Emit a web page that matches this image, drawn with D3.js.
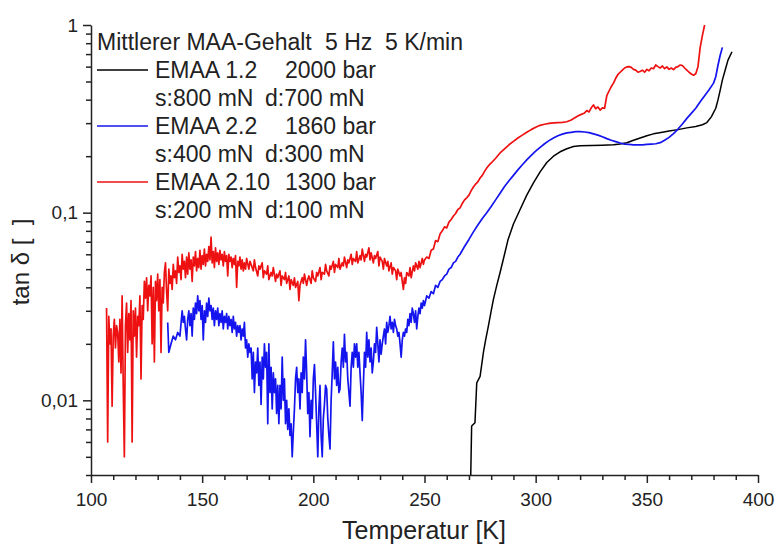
<!DOCTYPE html>
<html>
<head>
<meta charset="utf-8">
<script src="https://cdn.jsdelivr.net/npm/d3@7"></script>
<style>
  body { margin: 0; background: #fff; }
  svg { font-family: "Liberation Sans", Arial, sans-serif; }
</style>
</head>
<body>
<svg id="chart" width="780" height="547"></svg>
<script>
// temperature [K], tan delta
var blackData = [[270.8,0.0040],[271.2,0.0073],[272.7,0.0076],[273.5,0.0124],[275,0.0134],[276.5,0.018],[277.5,0.021],
  [278.7,0.0248],[280,0.030],[281,0.0345],[282.5,0.041],[284,0.048],[286,0.060],[287.6,0.072],[290,0.087],[293,0.104],
  [296,0.124],[299,0.144],[302,0.165],[305,0.185],[308,0.200],[311,0.211],[314,0.219],[317,0.225],[320,0.227],[325,0.228],
  [330,0.229],[335,0.230],[338,0.232],[341,0.236],[344,0.243],[347,0.250],[350,0.257],[353,0.263],[357,0.268],[360,0.272],
  [364,0.277],[368,0.283],[372,0.288],[375,0.294],[377,0.302],[379,0.324],[381,0.360],[382,0.399],[383,0.450],[384,0.510],
  [385.5,0.590],[386.5,0.650],[388.3,0.720]];

var blueData = [[134.5,0.026],[135,0.018],[135.5,0.019],[136,0.020],[137,0.022],[138,0.021],[139,0.023],[140,0.022],
  [141,0.030],[141.5,0.026],[142,0.028],[142.5,0.024],[143,0.021],[143.5,0.027],[144,0.030],[144.5,0.025],[145,0.029],
  [145.5,0.022],[146,0.031],[146.5,0.027],[147,0.033],[147.5,0.029],[148,0.036],[148.5,0.030],[149,0.034],[149.5,0.027],
  [150,0.032],[150.5,0.021],[151,0.030],[151.5,0.026],[152,0.033],[152.5,0.028],[153,0.035],[153.5,0.030],[154,0.032],
  [154.5,0.027],[155,0.031],[155.5,0.025],[156,0.030],[156.5,0.027],[157,0.031],[157.5,0.025],[158,0.029],[158.5,0.026],
  [159,0.030],[159.5,0.024],[160,0.028],[160.5,0.026],[161,0.029],[161.5,0.024],[162,0.028],[162.5,0.025],[163,0.027],
  [163.5,0.023],[164,0.028],[164.5,0.024],[165,0.026],[165.5,0.022],[166,0.025],[166.5,0.023],[167,0.025],[167.5,0.021],
  [168,0.024],[168.5,0.022],[169,0.026],[169.5,0.019],[170,0.021],[170.5,0.017],[171,0.020],[171.5,0.018],[172,0.019],
  [172.5,0.013],[173,0.018],[173.5,0.011],[174,0.016],[174.5,0.014],[175,0.019],[175.5,0.012],[176,0.016],[176.5,0.0095],
  [177,0.017],[177.5,0.013],[178,0.020],[178.5,0.015],[179,0.018],[179.5,0.0075],[180,0.020],[180.5,0.011],[181,0.015],
  [181.5,0.009],[182,0.014],[182.5,0.011],[183,0.013],[183.5,0.0085],[184,0.012],[184.5,0.0075],[185,0.012],[185.5,0.009],
  [186,0.017],[186.5,0.010],[187,0.013],[187.5,0.0075],[188,0.010],[188.5,0.007],[189,0.009],[189.5,0.0065],[190,0.0075],
  [190.5,0.005],[191,0.0068],[191.5,0.009],[192,0.013],[192.5,0.015],[193,0.011],[193.5,0.013],[194,0.009],[194.5,0.014],
  [195,0.011],[195.5,0.017],[196,0.013],[196.5,0.021],[197,0.014],[197.5,0.0085],[198,0.011],[198.5,0.0064],[199,0.010],
  [199.5,0.008],[200,0.013],[200.5,0.0155],[201,0.011],[201.5,0.0075],[202,0.005],[202.5,0.009],[203,0.012],[203.5,0.0065],
  [204,0.005],[204.5,0.008],[205,0.0095],[205.5,0.012],[206,0.0115],[206.5,0.008],[207,0.0065],[207.5,0.0055],[208,0.010],
  [208.5,0.014],[209,0.0205],[209.5,0.013],[210,0.016],[210.5,0.012],[211,0.015],[211.5,0.011],[212,0.0115],[212.5,0.016],
  [213,0.019],[213.5,0.015],[214,0.0225],[214.5,0.016],[215,0.018],[215.5,0.013],[216,0.011],[216.5,0.0093],[217,0.015],
  [217.5,0.018],[218,0.015],[218.5,0.020],[219,0.017],[219.5,0.020],[220,0.015],[220.5,0.018],[221,0.014],[221.5,0.011],
  [222,0.0078],[222.5,0.012],[223,0.018],[223.5,0.015],[224,0.023],[224.5,0.017],[225,0.021],[225.5,0.016],[226,0.019],
  [226.5,0.014],[227,0.016],[227.5,0.020],[228,0.018],[228.5,0.0245],[229,0.020],[229.5,0.016],[230,0.021],[230.5,0.0176],
  [231,0.020],[231.5,0.022],[232,0.024],[232.5,0.020],[233,0.026],[233.5,0.023],[234,0.025],[234.5,0.028],[235,0.024],
  [235.5,0.026],[236,0.023],[236.5,0.027],[237,0.025],[237.5,0.024],[238,0.022],[238.5,0.023],[239,0.020],[239.5,0.017],
  [240,0.021],[240.5,0.023],[241,0.022],[241.5,0.024],[242,0.023],[242.5,0.027],[243,0.025],[243.5,0.029],[244,0.026],
  [244.5,0.031],[245,0.029],[245.5,0.026],[246,0.030],[246.5,0.024],[247,0.028],[247.5,0.031],[248,0.029],[248.5,0.033],
  [249,0.031],[249.5,0.034],[250,0.032],[251,0.036],[252,0.035],[253,0.038],[254,0.037],[255,0.041],[256,0.040],[257,0.043],
  [258,0.044],[259,0.046],[260,0.047],[261,0.050],[262,0.051],[263,0.054],[264,0.055],[265,0.058],[266,0.060],[268,0.066],
  [270,0.072],[272,0.079],[274,0.086],[276,0.093],[278,0.100],[280,0.108],[282,0.117],[284,0.127],[286,0.138],[288,0.148],
  [290,0.158],[292,0.169],[294,0.180],[296,0.191],[298,0.202],[300,0.213],[302,0.223],[304,0.233],[306,0.242],[308,0.250],
  [310,0.257],[312,0.262],[314,0.266],[316,0.268],[318,0.270],[320,0.270],[322,0.269],[324,0.267],[326,0.263],[328,0.259],
  [330,0.254],[332,0.248],[334,0.243],[336,0.239],[338,0.235],[340,0.232],[342,0.231],[344,0.230],[346,0.230],[348,0.230],
  [350,0.231],[352,0.232],[354,0.233],[356,0.236],[358,0.243],[360,0.252],[362,0.264],[364,0.279],[366,0.297],[368,0.318],
  [370,0.338],[372,0.360],[374,0.390],[376,0.420],[378,0.452],[380,0.490],[381,0.530],[382,0.610],[383,0.690],[384,0.760]];

var redData = [[107,0.031],[107.5,0.006],[108,0.028],[108.5,0.020],[109,0.024],[109.5,0.0093],[110,0.022],[110.5,0.027],
  [111,0.019],[111.5,0.025],[112,0.023],[112.5,0.016],[113,0.027],[113.5,0.014],[114,0.036],[114.5,0.012],[115,0.005],
  [115.5,0.025],[116,0.033],[116.5,0.018],[117,0.029],[117.5,0.021],[118,0.034],[118.5,0.006],[119,0.030],[119.5,0.022],
  [120,0.031],[120.5,0.017],[121,0.028],[121.5,0.025],[122,0.036],[122.5,0.013],[123,0.032],[123.5,0.027],[124,0.043],
  [124.5,0.035],[125,0.045],[125.5,0.030],[126,0.041],[126.5,0.036],[127,0.046],[127.5,0.020],[128,0.040],[128.5,0.016],
  [129,0.043],[129.5,0.034],[130,0.047],[130.5,0.030],[131,0.044],[131.5,0.018],[132,0.040],[132.5,0.033],[133,0.048],
  [133.5,0.054],[134,0.038],[134.5,0.030],[135,0.050],[135.5,0.042],[136,0.046],[136.5,0.039],[137,0.053],[137.5,0.045],
  [138,0.049],[138.5,0.042],[139,0.058],[139.5,0.048],[140,0.052],[140.5,0.044],[141,0.060],[141.5,0.050],[142,0.055],
  [142.5,0.045],[143,0.058],[143.5,0.047],[144,0.061],[144.5,0.050],[145,0.056],[145.5,0.043],[146,0.058],[146.5,0.052],
  [147,0.062],[147.5,0.049],[148,0.057],[148.5,0.051],[149,0.063],[149.5,0.050],[150,0.059],[150.5,0.053],[151,0.064],
  [151.5,0.052],[152,0.060],[152.5,0.055],[153,0.066],[153.5,0.056],[154,0.074],[154.5,0.054],[155,0.062],[155.5,0.051],
  [156,0.065],[156.5,0.055],[157,0.061],[157.5,0.053],[158,0.063],[158.5,0.056],[159,0.060],[159.5,0.052],[160,0.062],
  [160.5,0.055],[161,0.059],[161.5,0.046],[162,0.060],[162.5,0.055],[163,0.058],[163.5,0.051],[164,0.057],[164.5,0.053],
  [165,0.059],[165.5,0.040],[166,0.055],[166.5,0.052],[167,0.058],[167.5,0.050],[168,0.056],[168.5,0.049],[169,0.054],
  [169.5,0.050],[170,0.057],[171,0.050],[171.5,0.055],[172,0.053],[173,0.049],[173.5,0.056],[174,0.051],[175,0.046],
  [175.5,0.052],[176,0.050],[177,0.054],[177.5,0.045],[178,0.049],[179,0.047],[179.5,0.052],[180,0.044],[181,0.048],
  [181.5,0.046],[182,0.051],[183,0.043],[183.5,0.047],[184,0.045],[185,0.049],[185.5,0.041],[186,0.046],[187,0.044],
  [187.5,0.048],[188,0.042],[189,0.046],[189.5,0.039],[190,0.044],[191,0.041],[191.5,0.045],[192,0.040],[193,0.043],
  [193.5,0.034],[194,0.041],[195,0.045],[195.5,0.042],[196,0.047],[197,0.041],[197.5,0.044],[198,0.046],[199,0.042],
  [199.5,0.049],[200,0.045],[201,0.043],[201.5,0.048],[202,0.046],[203,0.051],[203.5,0.044],[204,0.048],[205,0.047],
  [205.5,0.053],[206,0.049],[207,0.046],[207.5,0.052],[208,0.050],[209,0.055],[209.5,0.048],[210,0.053],[211,0.051],
  [211.5,0.057],[212,0.050],[213,0.054],[213.5,0.052],[214,0.058],[215,0.051],[215.5,0.056],[216,0.054],[217,0.060],
  [217.5,0.053],[218,0.057],[219,0.055],[219.5,0.062],[220,0.054],[221,0.059],[221.5,0.056],[222,0.064],[223,0.055],
  [223.5,0.060],[224,0.058],[225,0.065],[225.5,0.056],[226,0.061],[227,0.054],[227.5,0.059],[228,0.057],[229,0.062],
  [229.5,0.052],[230,0.058],[231,0.055],[231.5,0.050],[232,0.057],[233,0.052],[233.5,0.055],[234,0.049],[235,0.054],
  [235.5,0.047],[236,0.051],[237,0.049],[237.5,0.044],[238,0.050],[239,0.046],[239.5,0.048],[240,0.043],[240.5,0.039],
  [241,0.045],[241.5,0.042],[242,0.048],[243,0.046],[243.5,0.051],[244,0.045],[245,0.052],[245.5,0.049],[246,0.054],
  [247,0.050],[247.5,0.055],[248,0.051],[249,0.057],[249.5,0.053],[250,0.056],[251,0.058],[252,0.057],
  [253,0.063],[254,0.064],[255,0.071],[256,0.070],[257,0.077],[258,0.080],
  [259,0.084],[260,0.083],[261,0.089],[262,0.092],[263,0.096],[264,0.099],[265,0.104],[266,0.106],[267,0.112],[268,0.117],
  [269,0.120],[270,0.124],[271,0.131],[272,0.137],[273,0.142],[274,0.146],[275,0.153],[276,0.158],[277,0.166],[278,0.173],
  [279,0.179],[280,0.184],[282,0.195],[284,0.208],[286,0.219],[288,0.230],[290,0.240],[292,0.250],[294,0.259],[296,0.268],
  [298,0.277],[300,0.285],[302,0.292],[304,0.296],[306,0.299],[308,0.301],[310,0.302],[312,0.303],[314,0.305],[316,0.312],
  [318,0.322],[320,0.332],[322,0.340],[323,0.350],[324,0.344],[325,0.362],[326,0.375],[327,0.358],[328,0.366],[329,0.352],
  [330,0.362],[331,0.360],[332,0.420],[333,0.445],[334,0.470],[335,0.490],[336,0.520],[337,0.545],[338,0.560],[339,0.575],
  [340,0.590],[341,0.598],[342,0.600],[343,0.595],[344,0.580],[345,0.575],[346,0.560],[347,0.565],[348,0.575],[349,0.560],
  [350,0.580],[351,0.570],[352,0.590],[353,0.585],[354,0.612],[355,0.600],[356,0.590],[357,0.605],[358,0.585],[359,0.598],
  [360,0.580],[361,0.590],[362,0.578],[363,0.595],[364,0.600],[365,0.612],[366,0.608],[367,0.590],[368,0.575],[369,0.560],
  [370,0.548],[371,0.540],[372,0.550],[373,0.600],[374,0.760],[375,0.880],[376,1.0]];

var xTicks = [100, 150, 200, 250, 300, 350, 400];
var xMinorTicks = [110, 120, 130, 140, 160, 170, 180, 190, 210, 220, 230, 240, 260, 270, 280, 290,
  310, 320, 330, 340, 360, 370, 380, 390];
var yTicks = [0.01, 0.1, 1];
var yTickLabels = ["0,01", "0,1", "1"];
var yMinorTicks = [0.004, 0.005, 0.006, 0.007, 0.008, 0.009, 0.02, 0.03, 0.04, 0.05, 0.06, 0.07, 0.08, 0.09,
  0.2, 0.3, 0.4, 0.5, 0.6, 0.7, 0.8, 0.9];

var legendTitle = ["Mittlerer MAA-Gehalt", "5 Hz", "5 K/min"];
var seriesNames = ["EMAA 1.2", "EMAA 2.2", "EMAA 2.10"];
var seriesPressure = ["2000 bar", "1860 bar", "1300 bar"];
var seriesStatic = ["s:800 mN", "s:400 mN", "s:200 mN"];
var seriesDynamic = ["d:700 mN", "d:300 mN", "d:100 mN"];
var seriesColors = ["#000000", "#1414ee", "#ee1111"];

var svg = d3.select("#chart");

var x = d3.scaleLinear().domain([100, 400]).range([91, 758]);
var y = d3.scaleLog().domain([0.004, 1]).range([475, 25]);

var line = d3.line()
  .x(function(d) { return x(d[0]); })
  .y(function(d) { return y(d[1]); });

var allSeries = [blackData, blueData, redData];

svg.append("g").attr("class", "lines")
  .selectAll("path")
  .data(allSeries)
  .enter()
  .append("path")
  .attr("d", line)
  .attr("fill", "none")
  .attr("stroke", function(d, i) { return seriesColors[i]; })
  .attr("stroke-width", function(d, i) { return i == 0 ? 1.5 : 1.7; })
  .attr("stroke-linejoin", "round");

// axes
svg.append("g")
  .attr("transform", "translate(0,475)")
  .call(d3.axisBottom(x).tickValues(xTicks).tickSize(8).tickSizeOuter(0).tickPadding(10));
svg.append("g")
  .attr("transform", "translate(0,475)")
  .call(d3.axisBottom(x).tickValues(xMinorTicks).tickSize(5).tickFormat(""))
  .select(".domain").remove();

svg.append("g")
  .attr("transform", "translate(91,0)")
  .call(d3.axisLeft(y).tickValues(yTicks).tickSize(8).tickSizeOuter(0).tickPadding(5)
    .tickFormat(function(d, i) { return yTickLabels[i]; }));
svg.append("g")
  .attr("transform", "translate(91,0)")
  .call(d3.axisLeft(y).tickValues(yMinorTicks).tickSize(5).tickFormat(""))
  .select(".domain").remove();

svg.selectAll(".domain, .tick line")
  .attr("stroke", "#222")
  .attr("stroke-width", 1.5);
svg.selectAll(".tick text")
  .attr("font-size", 19)
  .attr("font-family", "Liberation Sans, Arial, sans-serif")
  .attr("fill", "#222");

svg.append("text")
  .attr("x", 424)
  .attr("y", 539)
  .attr("text-anchor", "middle")
  .attr("font-size", 25)
  .attr("fill", "#222")
  .text("Temperatur [K]");

svg.append("text")
  .attr("transform", "translate(29,262) rotate(-90)")
  .attr("text-anchor", "middle")
  .attr("font-size", 24)
  .attr("fill", "#222")
  .attr("xml:space", "preserve")
  .style("white-space", "pre")
  .text("tan \u03b4 [  ]");

// legend
var legend = svg.append("g").attr("class", "legend")
  .attr("font-size", 23)
  .attr("fill", "#222");

var titleX = [97, 325, 385];
legend.selectAll("text.title")
  .data(legendTitle)
  .enter()
  .append("text")
  .attr("class", "title")
  .attr("x", function(d, i) { return titleX[i]; })
  .attr("y", 50)
  .text(function(d) { return d; });

seriesNames.forEach(function(name, i) {
  var base = 78 + i * 56;
  legend.append("line")
    .attr("x1", 97).attr("x2", 148)
    .attr("y1", base - 8).attr("y2", base - 8)
    .attr("stroke", seriesColors[i])
    .attr("stroke-width", 1.5);
  legend.append("text").attr("x", 155).attr("y", base).text(name);
  legend.append("text").attr("x", 285).attr("y", base).text(seriesPressure[i]);
  legend.append("text").attr("x", 155).attr("y", base + 28).text(seriesStatic[i]);
  legend.append("text").attr("x", 265).attr("y", base + 28).text(seriesDynamic[i]);
});
</script>
</body>
</html>
